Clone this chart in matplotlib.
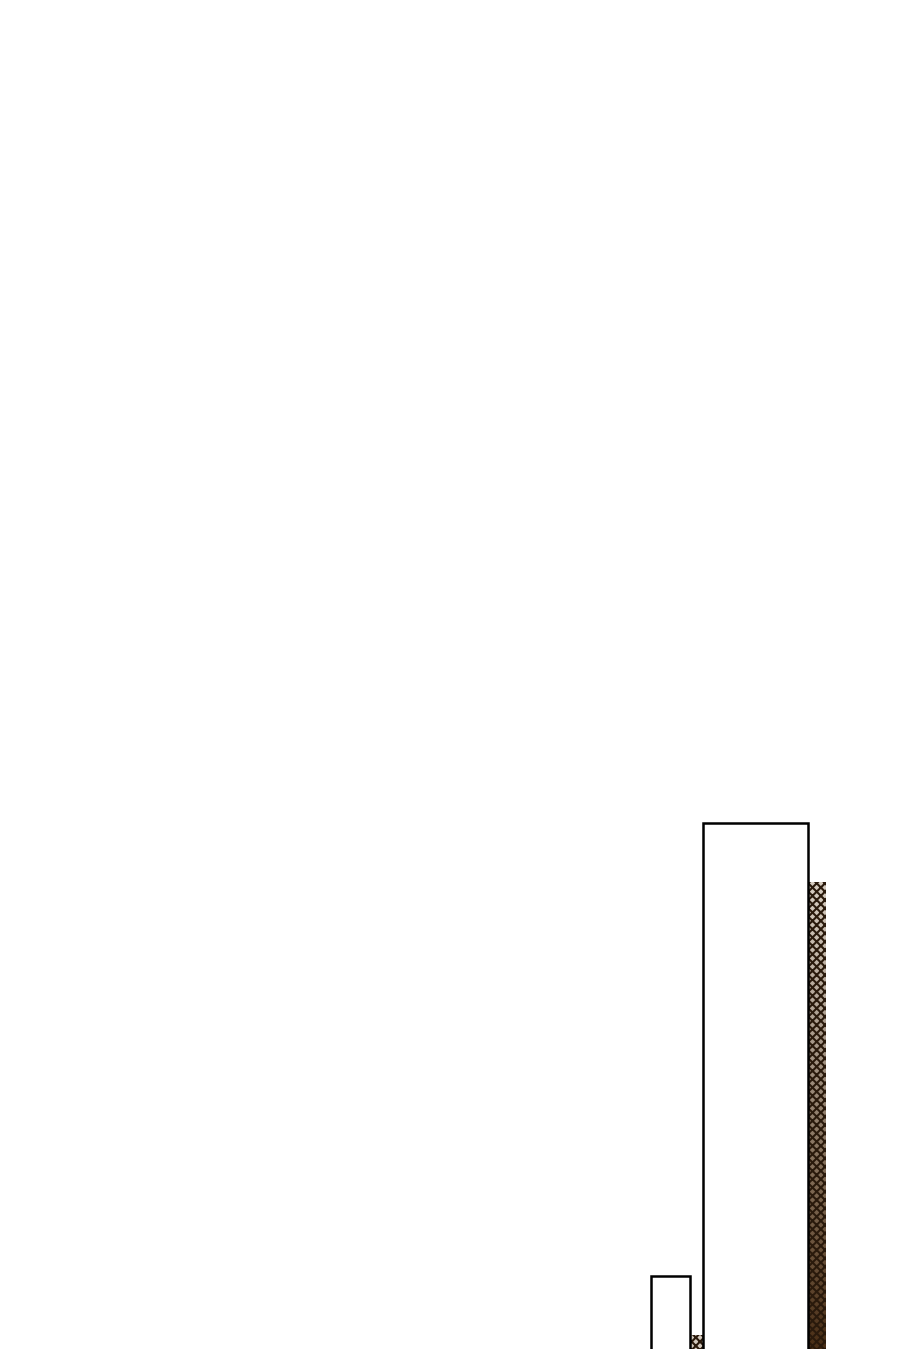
import numpy as np
import matplotlib
matplotlib.use("Agg")
import matplotlib.pyplot as plt
from matplotlib.colors import LinearSegmentedColormap, Normalize

# Data (units: value axis; x in layout units)
groups = ["A", "B"]
outline_values = [7.3, 52.6]
textured_values = [1.4, 46.7]
outline_left = [65.1, 70.3]
outline_width = [3.9, 10.5]
textured_left = [69.0, 80.8]
textured_width = [1.3, 1.8]
baseline = -1.0  # bars continue below the visible frame

plt.rcParams["hatch.linewidth"] = 1.5

fig = plt.figure(figsize=(9, 13.49), dpi=100)
ax = fig.add_axes([0, 0, 1, 1])
ax.axis("off")

cmap = LinearSegmentedColormap.from_list(
    "tanbrown", ["#d6ccc0", "#a8998a", "#7c6650", "#4a2f17"])
norm = Normalize(0, max(textured_values))

for x0, w, h in zip(textured_left, textured_width, textured_values):
    bar = ax.bar(x0, h - baseline, bottom=baseline, width=w, align="edge",
                 color="none", edgecolor="none", linewidth=0)[0]
    y = np.linspace(baseline, h, 256).reshape(-1, 1)
    im = ax.imshow(h - y, cmap=cmap, norm=norm, aspect="auto",
                   origin="lower", extent=[x0, x0 + w, baseline, h], zorder=1)
    im.set_clip_path(bar)
    ax.bar(x0, h - baseline, bottom=baseline, width=w, align="edge",
           facecolor="none", edgecolor="#2a1a0c", hatch="xxxx",
           linewidth=0, zorder=2)

for x0, w, h in zip(outline_left, outline_width, outline_values):
    ax.bar(x0, h - baseline, bottom=baseline, width=w, align="edge",
           facecolor="white", edgecolor="black", linewidth=1.8, zorder=3)

ax.set_xlim(0, 90)
ax.set_ylim(0, 134.9)
fig.savefig("out.png", dpi=100, facecolor="white")
